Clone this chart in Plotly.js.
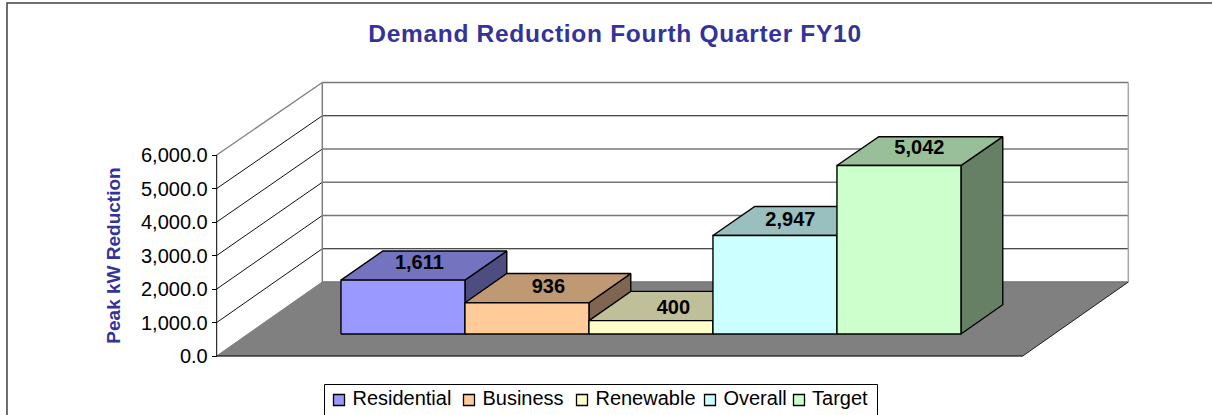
<!DOCTYPE html>
<html>
<head>
<meta charset="utf-8">
<script src="https://cdn.plot.ly/plotly-3.0.1.min.js"></script>
<style>html,body{margin:0;padding:0;background:#fff;overflow:hidden}
.gtitle{letter-spacing:0.7px}</style>
</head>
<body>
<div id="chart" style="width:1212px;height:415px"></div>
<script>
// ---- data ----
const categories = ['Residential', 'Business', 'Renewable', 'Overall', 'Target'];
const values = [1611, 936, 400, 2947, 5042];
const valueLabels = ['1,611', '936', '400', '2,947', '5,042'];
const tickValues = [0, 1000, 2000, 3000, 4000, 5000, 6000];
const tickLabels = ['0.0', '1,000.0', '2,000.0', '3,000.0', '4,000.0', '5,000.0', '6,000.0'];
const titleText = 'Demand Reduction Fourth Quarter FY10';
const yTitleText = 'Peak kW Reduction';

// ---- styles ----
const frontColors = ['#9999FF', '#FFCC99', '#FFFFCC', '#CCFFFF', '#CCFFCC'];
const topColors = ['#7373BF', '#BF9973', '#BFBF99', '#99BFBF', '#99BF99'];
const sideColors = ['#4D4D80', '#806650', '#808066', '#668080', '#668066'];
const FONT = '"Liberation Sans", Arial, sans-serif';
const LABEL_SIZE = 20, TICK_SIZE = 20, TITLE_SIZE = 24.5;

// ---- oblique projection (pixel-scaled x axis, value y axis) ----
const W = 1212, H = 415;
const AX_X = 216.7, FLOOR_Y = 356, FLOOR_W = 806, DX = 105.6, DY = 74;
const S_FRONT = 33.5, S_BACK = 33.25;        // px per 1000 at front / back plane
const BAR_X0 = 92.9, BAR_W = 124, D0 = 0.297, D1 = 0.693;
const LABEL_SHIFT_X = [-4.5, 0.5, 1.5, -5.5, -0.5], LABEL_SHIFT_Y = [2, 0, -3, 0.5, 2.5];
const k = 1000 / S_FRONT;
const yRange = [-(H - FLOOR_Y) * k, FLOOR_Y * k];
function P(x, d, v) {                         // x along width, d depth 0..1, v value
  const s = S_FRONT + (S_BACK - S_FRONT) * d;
  return [AX_X + x + d * DX, (v * s / 1000 + d * DY) * k];
}
function poly(points, fill, lineColor, lw) {
  const pts = points.concat([points[0]]);
  return { type: 'scatter', mode: 'lines', x: pts.map(p => p[0]), y: pts.map(p => p[1]),
    fill: 'toself', fillcolor: fill, line: { color: lineColor, width: lw }, hoverinfo: 'skip', showlegend: false };
}
function seg(a, b, color, lw) {
  return { type: 'scatter', mode: 'lines', x: [a[0], b[0]], y: [a[1], b[1]],
    line: { color: color, width: lw }, hoverinfo: 'skip', showlegend: false };
}

const traces = [];
// floor
traces.push(poly([P(0,0,0), P(FLOOR_W,0,0), P(FLOOR_W,1,0), P(0,1,0)], '#808080', 'rgba(128,128,128,1)', 0.5));
// grid lines on the walls
tickValues.forEach(v => {
  const edge = v === 6000 || v === 0;
  const crisp = v === 5000 || v === 1000;
  traces.push(seg(P(0,0,v), P(0,1,v), edge ? '#808080' : '#111', v === 6000 ? 1.4 : 1));
  traces.push(seg(P(0,1,v), P(FLOOR_W,1,v), crisp ? '#111' : '#777', crisp ? 1 : 1.5));
});
traces.push(seg(P(0,1,0), P(0,1,6000), '#808080', 1.5));
traces.push(seg(P(FLOOR_W,1,0), P(FLOOR_W,1,6000), '#A6A6A6', 1.5));
traces.push(seg(P(0,0,0), P(FLOOR_W,0,0), '#000', 1.2));
traces.push(seg(P(FLOOR_W,0,0), P(FLOOR_W,1,0), '#222', 1));
// bars, left to right
values.forEach((v, i) => {
  const a = BAR_X0 + i * BAR_W, b = a + BAR_W;
  traces.push(poly([P(b,D0,0), P(b,D1,0), P(b,D1,v), P(b,D0,v)], sideColors[i], '#000', 1.4));
  traces.push(poly([P(a,D0,v), P(b,D0,v), P(b,D1,v), P(a,D1,v)], topColors[i], '#000', 1.4));
  traces.push(poly([P(a,D0,0), P(b,D0,0), P(b,D0,v), P(a,D0,v)], frontColors[i], '#000', 1.4));
});
// value labels on the bar tops
values.forEach((v, i) => {
  const c = P(BAR_X0 + (i + 0.5) * BAR_W, (D0 + D1) / 2, v);
  traces.push({ type: 'scatter', mode: 'text', x: [c[0] + LABEL_SHIFT_X[i]], y: [c[1] + LABEL_SHIFT_Y[i] * k], text: [valueLabels[i]],
    textposition: 'middle center', textfont: { family: FONT, size: LABEL_SIZE, color: '#000', weight: 700 },
    hoverinfo: 'skip', showlegend: false, cliponaxis: false });
});
// hand-placed legend row: swatch + label
const LEG_X = [339, 469, 582, 710, 799], LEG_Y = 400;
const yAt = py => (FLOOR_Y - py) * k;
categories.forEach((c, i) => {
  traces.push({ type: 'scatter', mode: 'markers+text', x: [LEG_X[i]], y: [yAt(LEG_Y)], text: [' ' + c],
    textposition: 'middle right', textfont: { family: FONT, size: TICK_SIZE, color: '#000' },
    marker: { symbol: 'square', size: 11, color: frontColors[i], line: { color: '#000', width: 1.3 } },
    hoverinfo: 'skip', showlegend: false, cliponaxis: false });
});
// value axis on the front plane
traces.push({ type: 'scatter', mode: 'lines', xaxis: 'x', yaxis: 'y2', x: [AX_X, AX_X], y: [0, 6000],
  line: { color: '#000', width: 1 }, hoverinfo: 'skip', showlegend: false });

const layout = {
  width: W, height: H, margin: { l: 0, r: 0, t: 0, b: 0 },
  paper_bgcolor: '#fff', plot_bgcolor: 'rgba(0,0,0,0)', showlegend: false,
  title: { text: titleText, x: 615 / W, xanchor: 'center', y: 1 - 33 / H, yanchor: 'middle',
    font: { family: FONT, size: TITLE_SIZE, color: '#333399', weight: 700 } },
  xaxis: { range: [0, W], visible: false, fixedrange: true },
  yaxis: { range: yRange, visible: false, fixedrange: true },
  yaxis2: { domain: [(H - FLOOR_Y) / H, (H - 155) / H], range: [0, 6000], anchor: 'free', position: AX_X / W,
    tickmode: 'array', tickvals: tickValues, ticktext: tickLabels, ticks: 'outside', ticklen: 5, tickcolor: '#000',
    showline: false, showgrid: false, zeroline: false, fixedrange: true,
    tickfont: { family: FONT, size: TICK_SIZE, color: '#000' },
    title: { text: yTitleText, standoff: 14, font: { family: FONT, size: 19, color: '#333399', weight: 700 } } },
  shapes: [
    { type: 'rect', xref: 'paper', yref: 'paper', x0: 7 / W, x1: 1400 / W, y0: -0.2, y1: 1 - 3 / H,
      line: { color: '#404040', width: 1.5 }, fillcolor: 'rgba(0,0,0,0)', layer: 'below' },
    { type: 'rect', xref: 'paper', yref: 'paper', x0: 324.5 / W, x1: 877.5 / W, y0: -0.1, y1: 1 - 384.5 / H,
      line: { color: '#000', width: 1 }, fillcolor: '#fff', layer: 'below' }
  ]
};
Plotly.newPlot('chart', traces, layout, { displayModeBar: false, staticPlot: true });
</script>
</body>
</html>
